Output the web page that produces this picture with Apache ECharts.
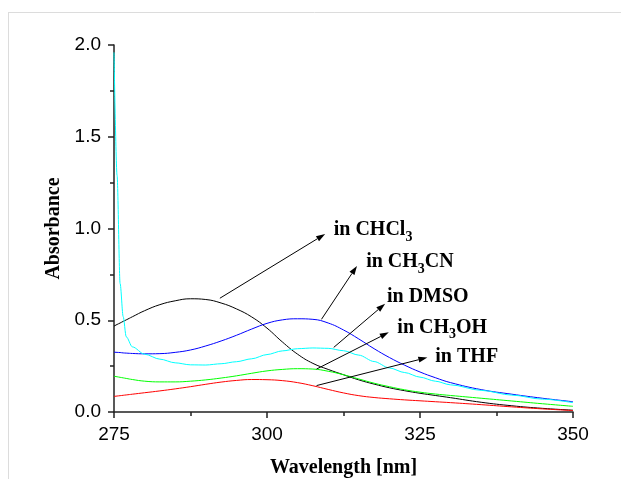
<!DOCTYPE html>
<html>
<head>
<meta charset="utf-8">
<script src="https://cdn.jsdelivr.net/npm/echarts@6/dist/echarts.min.js"></script>
<style>
html, body { margin: 0; padding: 0; background: #fff; }
#chart { width: 621px; height: 479px; }
</style>
</head>
<body>
<div id="chart"></div>
<script>
// wavelength samples (nm)
var wavelength = [275, 275.5, 276, 276.5, 277, 278, 280, 282.5, 285, 287.5, 290, 292.5, 295, 297.5, 300,
  302.5, 305, 307.5, 310, 312.5, 315, 317.5, 320, 322.5, 325, 327.5, 330, 335, 340, 345, 350];

var chcl3 = [0.468, 0.477, 0.485, 0.494, 0.502, 0.519, 0.552, 0.585, 0.606, 0.617, 0.613, 0.594, 0.562, 0.518, 0.457,
  0.382, 0.315, 0.265, 0.232, 0.203, 0.175, 0.152, 0.132, 0.116, 0.102, 0.090, 0.078, 0.053, 0.034, 0.020, 0.010];
var ch3cn = [0.326, 0.325, 0.324, 0.322, 0.321, 0.319, 0.317, 0.318, 0.325, 0.338, 0.360, 0.387, 0.418, 0.452, 0.483,
  0.502, 0.508, 0.505, 0.485, 0.447, 0.398, 0.345, 0.297, 0.255, 0.218, 0.187, 0.160, 0.122, 0.097, 0.075, 0.056];
var dmso = [1.960, 1.290, 0.700, 0.520, 0.410, 0.355, 0.315, 0.288, 0.268, 0.257, 0.256, 0.263, 0.274, 0.290, 0.313,
  0.333, 0.345, 0.349, 0.347, 0.334, 0.310, 0.275, 0.240, 0.215, 0.190, 0.168, 0.148, 0.118, 0.092, 0.070, 0.051];
var ch3oh = [0.195, 0.192, 0.189, 0.186, 0.183, 0.177, 0.168, 0.164, 0.164, 0.168, 0.175, 0.185, 0.197, 0.211, 0.224,
  0.232, 0.236, 0.234, 0.222, 0.203, 0.180, 0.157, 0.138, 0.121, 0.108, 0.098, 0.090, 0.075, 0.060, 0.045, 0.031];
var thf = [0.085, 0.087, 0.089, 0.091, 0.093, 0.097, 0.105, 0.115, 0.126, 0.138, 0.151, 0.163, 0.172, 0.177, 0.176,
  0.171, 0.160, 0.143, 0.123, 0.104, 0.089, 0.079, 0.072, 0.066, 0.061, 0.056, 0.051, 0.040, 0.028, 0.017, 0.008];

// annotation labels: [text, subscript, rest, arrow tail, arrow head, text anchor] (data coords)
var notes = [
  ['in CHCl', '3', '', [292.3, 0.62], [309.5, 0.97], [310.9, 0.992]],
  ['in CH', '3', 'CN', [308.9, 0.505], [314.7, 0.796], [316.2, 0.817]],
  ['in DMSO', '', '', [310.9, 0.352], [319.3, 0.59], [319.6, 0.625]],
  ['in CH', '3', 'OH', [308.1, 0.234], [319.9, 0.434], [321.3, 0.461]],
  ['in THF', '', '', [308.1, 0.144], [326.2, 0.297], [327.5, 0.303]]
];

var serif = '"Liberation Serif", "Times New Roman", serif';
var sans = '"Liberation Sans", Arial, sans-serif';
var axisColor = '#222';

function pairs(ys) {
  return wavelength.map(function (x, i) { return [x, ys[i]]; });
}

function curve(name, ys, color, mono) {
  return {
    name: name,
    type: 'line',
    data: pairs(ys),
    showSymbol: false,
    smooth: mono ? 0.3 : 0.45,
    smoothMonotone: mono ? 'x' : null,
    lineStyle: { color: color, width: 1 },
    itemStyle: { color: color },
    z: 3
  };
}

var chart = echarts.init(document.getElementById('chart'));

var option = {
  animation: false,
  grid: { left: 114, right: 48, top: 45, bottom: 67, outerBoundsMode: 'none', containLabel: false },
  xAxis: {
    type: 'value',
    min: 275, max: 350, interval: 25,
    name: 'Wavelength [nm]',
    nameLocation: 'middle',
    nameGap: 46,
    nameTextStyle: { fontFamily: serif, fontWeight: 'bold', fontSize: 20, color: '#000' },
    axisLine: { show: true, lineStyle: { color: axisColor, width: 1.5 } },
    axisTick: { show: true, inside: false, length: 6, lineStyle: { color: axisColor, width: 1.5 } },
    minorTick: { show: true, splitNumber: 2, length: 4, lineStyle: { color: axisColor, width: 1.5 } },
    splitLine: { show: false },
    axisLabel: { fontFamily: sans, fontSize: 19, color: '#000', margin: 13 }
  },
  yAxis: {
    type: 'value',
    min: 0, max: 2, interval: 0.5,
    name: 'Absorbance',
    nameLocation: 'middle',
    nameGap: 45,
    nameTextStyle: { fontFamily: serif, fontWeight: 'bold', fontSize: 20, color: '#000' },
    axisLine: { show: true, lineStyle: { color: axisColor, width: 1.5 } },
    axisTick: { show: true, inside: false, length: 6, lineStyle: { color: axisColor, width: 1.5 } },
    minorTick: { show: true, splitNumber: 2, length: 4, lineStyle: { color: axisColor, width: 1.5 } },
    splitLine: { show: false },
    axisLabel: {
      fontFamily: sans, fontSize: 19, color: '#000', margin: 13,
      formatter: function (v) { return v.toFixed(1); }
    }
  },
  series: [
    curve('in CHCl3', chcl3, '#000000'),
    curve('in CH3CN', ch3cn, '#0000ff'),
    curve('in DMSO', dmso, '#00ffff', true),
    curve('in CH3OH', ch3oh, '#00ff00'),
    curve('in THF', thf, '#ff0000')
  ]
};
chart.setOption(option);

// frame lines + arrows and labels
var g = [
  { type: 'line', shape: { x1: 8, y1: 12.5, x2: 621, y2: 12.5 }, style: { stroke: '#dcdcdc', lineWidth: 1 } },
  { type: 'line', shape: { x1: 8.5, y1: 12, x2: 8.5, y2: 479 }, style: { stroke: '#dcdcdc', lineWidth: 1 } }
];
notes.forEach(function (n) {
  var a = chart.convertToPixel({ gridIndex: 0 }, n[3]);
  var b = chart.convertToPixel({ gridIndex: 0 }, n[4]);
  var t = chart.convertToPixel({ gridIndex: 0 }, n[5]);
  var dx = b[0] - a[0], dy = b[1] - a[1];
  var len = Math.sqrt(dx * dx + dy * dy);
  var ux = dx / len, uy = dy / len;
  var hl = 9, hw = 3;
  var bx = b[0] - ux * hl, by = b[1] - uy * hl;
  g.push({ type: 'line', shape: { x1: a[0], y1: a[1], x2: bx, y2: by }, style: { stroke: '#000', lineWidth: 1 }, z: 10 });
  g.push({
    type: 'polygon',
    shape: { points: [[b[0], b[1]], [bx - uy * hw, by + ux * hw], [bx + uy * hw, by - ux * hw]] },
    style: { fill: '#000' }, z: 10
  });
  var txt = '{m|' + n[0] + '}' + (n[1] ? '{s|' + n[1] + '}' : '') + (n[2] ? '{m|' + n[2] + '}' : '');
  g.push({
    type: 'text',
    x: t[0], y: t[1], z: 10,
    style: {
      text: txt,
      align: 'left',
      verticalAlign: 'middle',
      rich: {
        m: { fontFamily: serif, fontWeight: 'bold', fontSize: 20, lineHeight: 28, fill: '#000', color: '#000' },
        s: { fontFamily: serif, fontWeight: 'bold', fontSize: 14, lineHeight: 14, verticalAlign: 'bottom', fill: '#000', color: '#000' }
      }
    }
  });
});
chart.setOption({ graphic: g });
</script>
</body>
</html>
